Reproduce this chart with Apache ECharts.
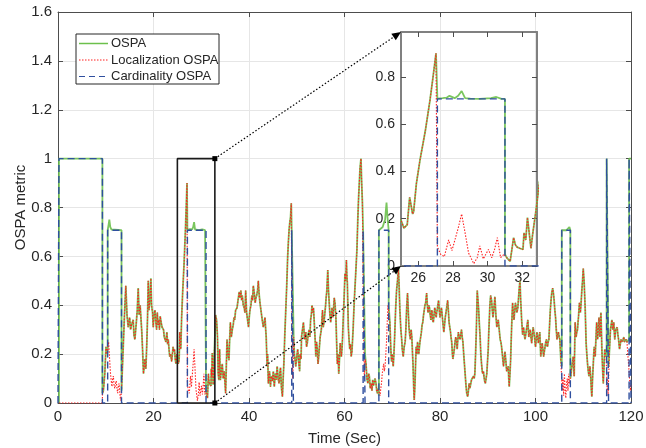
<!DOCTYPE html>
<html>
<head>
<meta charset="utf-8">
<script src="https://cdn.jsdelivr.net/npm/echarts@6/dist/echarts.min.js"></script>
<style>
  html, body { margin: 0; padding: 0; background: #fff; }
  #main { width: 646px; height: 448px; }
</style>
</head>
<body>
<div id="main"></div>
<script>
// tick labels
const xTickLabels = [0, 20, 40, 60, 80, 100, 120];
const yTickLabels = [0, 0.2, 0.4, 0.6, 0.8, 1, 1.2, 1.4, 1.6];
const insetXTicks = [26, 28, 30, 32];
const insetYTicks = [0, 0.2, 0.4, 0.6, 0.8];

// zoomed window [t0, t1, y0, y1] and inset y extent
const zoomBox = [25, 32.85, 0, 1];
const insetYMax = 0.99;

// cardinality error steps: [start, end, level]
const cardSteps = [
  [0.2, 9.3, 1], [10.4, 13.3, 0.707], [27.1, 31.0, 0.707], [48.95, 49.3, 0.707],
  [63.9, 64.3, 0.707], [67.2, 69.25, 0.707], [105.5, 107.3, 0.707],
  [114.9, 115.3, 1], [119.6, 120, 1]
];

// OSPA [time, value]
const ospa = [
  [0.2,0],[0.2,1],[9.3,1],[9.3,0.04],[9.5,0.05],[9.8,0.12],[10.05,0.23],[10.3,0.2],[10.4,0.22],
  [10.4,0.707],[10.6,0.73],[10.75,0.75],[10.95,0.72],[11.2,0.71],[11.5,0.707],[13.3,0.707],
  [13.3,0.05],[13.6,0.2],[13.9,0.35],[14.2,0.48],[14.45,0.36],[14.7,0.31],[15.0,0.35],[15.2,0.30],[15.4,0.32],
  [15.75,0.34],[15.9,0.28],[16.1,0.26],[16.4,0.33],[16.6,0.38],[16.8,0.47],[17.0,0.36],[17.2,0.40],[17.55,0.29],
  [17.75,0.2],[17.9,0.12],[18.05,0.15],[18.2,0.18],[18.4,0.14],[18.6,0.245],[18.75,0.35],[18.9,0.50],[19.05,0.38],
  [19.25,0.42],[19.45,0.51],[19.6,0.40],[19.8,0.37],[19.95,0.31],[20.1,0.36],[20.3,0.38],[20.5,0.33],[20.65,0.30],
  [20.8,0.37],[20.95,0.32],[21.1,0.34],[21.25,0.30],[21.4,0.355],[21.6,0.33],[21.8,0.31],[22.1,0.30],[22.25,0.27],
  [22.4,0.27],[22.6,0.25],[22.8,0.29],[22.95,0.24],[23.1,0.26],[23.25,0.22],[23.4,0.19],[23.6,0.2],[23.8,0.17],
  [23.95,0.2],[24.1,0.23],[24.25,0.21],[24.4,0.22],[24.55,0.18],[24.7,0.16],[24.9,0.2],[25.02,0.19],[25.17,0.16],
  [25.36,0.175],[25.5,0.29],[25.58,0.29],[25.67,0.22],[25.73,0.23],[25.89,0.35],[26.1,0.45],[26.4,0.57],[26.67,0.70],
  [26.85,0.8],[27.02,0.90],[27.1,0.708],[27.4,0.71],[27.63,0.712],[27.8,0.72],[28.1,0.71],[28.3,0.72],[28.5,0.74],
  [28.7,0.71],[29.0,0.708],[29.55,0.707],[30.2,0.71],[30.5,0.715],[30.8,0.707],[31.0,0.707],
  [31.0,0.05],[31.1,0.035],[31.3,0.02],[31.5,0.12],[31.6,0.09],[31.7,0.08],[31.85,0.075],[32.04,0.07],[32.1,0.14],
  [32.2,0.11],[32.3,0.205],[32.4,0.14],[32.5,0.075],[32.6,0.135],[32.8,0.24],[33.0,0.36],[33.2,0.34],[33.4,0.27],
  [33.55,0.12],[33.7,0.094],[33.85,0.22],[34.0,0.094],[34.2,0.13],[34.4,0.16],[34.6,0.1],[34.8,0.13],[34.95,0.09],
  [35.1,0.04],[35.25,0.15],[35.4,0.26],[35.6,0.2],[35.8,0.175],[35.95,0.26],[36.1,0.33],[36.3,0.27],[36.5,0.30],
  [36.7,0.32],[36.85,0.35],[37.0,0.34],[37.2,0.38],[37.5,0.39],[37.7,0.42],[37.95,0.455],[38.1,0.43],[38.3,0.46],
  [38.45,0.42],[38.6,0.44],[38.8,0.40],[39.0,0.39],[39.15,0.37],[39.3,0.46],[39.5,0.37],[39.7,0.34],[39.9,0.31],
  [40.05,0.35],[40.2,0.38],[40.4,0.40],[40.6,0.44],[40.75,0.42],[40.9,0.48],[41.1,0.45],[41.3,0.41],[41.45,0.43],
  [41.6,0.44],[41.8,0.46],[41.95,0.50],[42.1,0.45],[42.3,0.41],[42.5,0.38],[42.7,0.35],[42.85,0.33],[43.0,0.31],
  [43.2,0.33],[43.35,0.35],[43.5,0.3],[43.6,0.27],[43.8,0.15],[43.9,0.2],[44.05,0.08],[44.2,0.12],[44.3,0.13],
  [44.5,0.067],[44.6,0.1],[44.75,0.11],[44.9,0.09],[45.1,0.13],[45.3,0.067],[45.5,0.12],[45.7,0.095],[45.9,0.15],
  [46.1,0.1],[46.3,0.08],[46.45,0.12],[46.6,0.145],[46.8,0.06],[47.0,0.026],[47.15,0.1],[47.3,0.16],[47.5,0.28],
  [47.7,0.38],[47.9,0.48],[48.1,0.60],[48.25,0.66],[48.4,0.71],[48.55,0.74],[48.7,0.76],[48.85,0.817],[48.95,0.707],
  [49.3,0.707],[49.35,0.27],[49.5,0.2],[49.8,0.15],[50.0,0.19],[50.2,0.22],[50.4,0.17],[50.6,0.13],[50.7,0.2],
  [50.9,0.18],[51.0,0.27],[51.2,0.27],[51.4,0.33],[51.65,0.26],[51.9,0.29],[52.05,0.23],[52.2,0.245],[52.4,0.28],
  [52.6,0.30],[52.75,0.27],[52.9,0.34],[53.05,0.36],[53.2,0.40],[53.35,0.37],[53.5,0.39],[53.75,0.30],[53.9,0.24],
  [54.0,0.19],[54.15,0.25],[54.3,0.22],[54.45,0.16],[54.6,0.19],[54.75,0.23],[54.9,0.27],[55.15,0.30],[55.3,0.35],
  [55.4,0.38],[55.55,0.31],[55.7,0.33],[55.85,0.36],[56.0,0.39],[56.15,0.43],[56.3,0.46],[56.5,0.544],[56.65,0.46],
  [56.8,0.41],[56.95,0.36],[57.1,0.33],[57.25,0.36],[57.4,0.39],[57.55,0.35],[57.7,0.38],[57.85,0.43],[58.0,0.41],
  [58.2,0.35],[58.35,0.25],[58.5,0.16],[58.65,0.2],[58.8,0.12],[58.95,0.18],[59.1,0.245],[59.25,0.21],[59.35,0.19],
  [59.5,0.23],[59.6,0.27],[59.75,0.35],[59.9,0.42],[60.1,0.53],[60.25,0.5],[60.4,0.585],[60.5,0.52],[60.6,0.49],
  [60.7,0.4],[60.8,0.31],[60.95,0.26],[61.1,0.22],[61.25,0.24],[61.4,0.19],[61.55,0.21],[61.65,0.245],[61.8,0.3],
  [61.9,0.35],[62.05,0.42],[62.2,0.475],[62.4,0.55],[62.6,0.626],[62.8,0.76],[62.95,0.84],[63.1,0.90],[63.25,0.96],
  [63.45,1.0],[63.6,0.9],[63.75,0.82],[63.9,0.707],[64.3,0.707],
  [64.3,0.2],[64.5,0.16],[64.7,0.1],[64.9,0.08],[65.05,0.12],[65.2,0.11],[65.4,0.06],[65.6,0.08],[65.75,0.05],
  [65.9,0.095],[66.05,0.07],[66.2,0.067],[66.4,0.1],[66.6,0.08],[66.75,0.05],[66.9,0.04],[67.05,0.06],[67.2,0.03],
  [67.2,0.707],[67.6,0.71],[68.0,0.72],[68.3,0.74],[68.5,0.75],[68.8,0.82],[69.0,0.76],[69.25,0.707],
  [69.25,0.40],[69.5,0.33],[69.7,0.22],[69.85,0.17],[70.0,0.2],[70.2,0.15],[70.35,0.2],[70.5,0.27],[70.7,0.38],
  [70.9,0.46],[71.1,0.5],[71.3,0.55],[71.45,0.47],[71.6,0.38],[71.8,0.3],[71.98,0.26],[72.1,0.22],[72.3,0.19],
  [72.5,0.23],[72.7,0.25],[72.85,0.3],[73.0,0.38],[73.2,0.45],[73.35,0.38],[73.5,0.31],[73.65,0.28],[73.8,0.26],
  [73.95,0.3],[74.1,0.27],[74.25,0.2],[74.35,0.16],[74.5,0.06],[74.6,0.012],[74.7,0.05],[74.8,0.10],[74.9,0.17],
  [75.0,0.23],[75.15,0.2],[75.3,0.25],[75.45,0.22],[75.55,0.20],[75.7,0.23],[75.8,0.25],[75.95,0.27],[76.1,0.29],
  [76.25,0.32],[76.4,0.33],[76.55,0.36],[76.7,0.38],[76.85,0.4],[77.0,0.41],[77.2,0.45],[77.35,0.4],[77.5,0.37],
  [77.65,0.4],[77.8,0.39],[77.95,0.36],[78.1,0.34],[78.2,0.37],[78.3,0.38],[78.45,0.34],[78.6,0.33],[78.75,0.36],
  [78.9,0.39],[79.05,0.37],[79.2,0.35],[79.3,0.37],[79.4,0.38],[79.55,0.4],[79.7,0.42],[79.85,0.38],[80.0,0.35],
  [80.15,0.37],[80.3,0.39],[80.45,0.36],[80.6,0.33],[80.7,0.31],[80.8,0.29],[80.95,0.32],[81.1,0.35],[81.25,0.37],
  [81.4,0.39],[81.6,0.42],[81.75,0.38],[81.9,0.33],[82.05,0.31],[82.2,0.29],[82.3,0.27],[82.45,0.25],[82.6,0.2],
  [82.7,0.18],[82.85,0.2],[83.0,0.22],[83.15,0.25],[83.3,0.27],[83.45,0.25],[83.6,0.22],[83.7,0.25],[83.85,0.29],
  [84.0,0.27],[84.2,0.26],[84.35,0.28],[84.5,0.30],[84.65,0.27],[84.8,0.25],[84.9,0.22],[85.0,0.19],[85.15,0.15],
  [85.3,0.11],[85.45,0.07],[85.6,0.04],[85.8,0.026],[85.95,0.05],[86.1,0.08],[86.25,0.06],[86.4,0.054],[86.6,0.095],
  [86.8,0.1],[87.0,0.11],[87.15,0.1],[87.3,0.12],[87.45,0.2],[87.6,0.29],[87.8,0.46],[87.95,0.42],[88.1,0.38],
  [88.25,0.32],[88.4,0.27],[88.55,0.2],[88.7,0.16],[88.85,0.13],[88.95,0.12],[89.1,0.13],[89.2,0.11],[89.35,0.09],
  [89.5,0.08],[89.65,0.1],[89.8,0.12],[89.95,0.17],[90.1,0.22],[90.2,0.28],[90.3,0.33],[90.45,0.4],[90.6,0.44],
  [90.8,0.42],[90.95,0.38],[91.1,0.35],[91.2,0.35],[91.35,0.4],[91.5,0.435],[91.7,0.36],[91.9,0.31],[92.05,0.33],
  [92.2,0.34],[92.4,0.3],[92.6,0.26],[92.75,0.25],[92.9,0.23],[93.1,0.19],[93.3,0.15],[93.45,0.18],[93.6,0.21],
  [93.8,0.17],[93.96,0.13],[94.1,0.14],[94.3,0.15],[94.4,0.1],[94.5,0.067],[94.65,0.12],[94.8,0.18],[94.9,0.25],
  [95.0,0.31],[95.1,0.36],[95.2,0.41],[95.35,0.37],[95.5,0.34],[95.65,0.38],[95.8,0.41],[95.95,0.39],[96.1,0.37],
  [96.2,0.38],[96.3,0.39],[96.45,0.43],[96.6,0.47],[96.75,0.50],[96.9,0.42],[97.1,0.34],[97.3,0.28],[97.4,0.3],
  [97.5,0.31],[97.65,0.28],[97.8,0.26],[97.95,0.28],[98.1,0.30],[98.25,0.32],[98.4,0.34],[98.5,0.3],[98.6,0.27],
  [98.75,0.29],[98.9,0.30],[99.05,0.27],[99.2,0.245],[99.35,0.28],[99.5,0.31],[99.65,0.29],[99.8,0.27],[99.9,0.25],
  [100.0,0.23],[100.15,0.26],[100.3,0.29],[100.45,0.27],[100.6,0.245],[100.75,0.27],[100.9,0.29],[101.0,0.24],
  [101.1,0.19],[101.25,0.22],[101.4,0.245],[101.55,0.22],[101.7,0.19],[101.85,0.21],[102.0,0.23],[102.15,0.25],
  [102.3,0.26],[102.4,0.24],[102.5,0.23],[102.65,0.25],[102.8,0.26],[102.95,0.32],[103.1,0.38],[103.25,0.42],
  [103.4,0.45],[103.6,0.47],[103.75,0.45],[103.9,0.42],[104.05,0.38],[104.2,0.35],[104.35,0.3],[104.5,0.26],
  [104.65,0.28],[104.8,0.29],[104.95,0.27],[105.1,0.26],[105.2,0.22],[105.3,0.18],[105.5,0.15],
  [105.5,0.707],[106.5,0.707],[106.9,0.715],[107.1,0.72],[107.3,0.707],
  [107.3,0.1],[107.4,0.11],[107.55,0.14],[107.7,0.16],[107.9,0.19],[108.0,0.15],[108.1,0.11],[108.2,0.22],[108.3,0.33],
  [108.4,0.3],[108.5,0.27],[108.65,0.29],[108.8,0.30],[108.9,0.33],[109.0,0.35],[109.1,0.38],[109.2,0.41],[109.3,0.39],
  [109.4,0.37],[109.55,0.41],[109.7,0.46],[109.85,0.5],[110.0,0.55],[110.1,0.52],[110.2,0.49],[110.3,0.44],[110.4,0.39],
  [110.5,0.32],[110.6,0.245],[110.75,0.2],[110.9,0.16],[111.05,0.13],[111.2,0.11],[111.3,0.13],[111.4,0.15],[111.5,0.12],
  [111.6,0.095],[111.7,0.05],[111.8,0.026],[111.95,0.1],[112.1,0.16],[112.2,0.2],[112.3,0.23],[112.4,0.21],[112.5,0.19],
  [112.65,0.26],[112.8,0.33],[112.9,0.3],[113.0,0.26],[113.15,0.3],[113.3,0.35],[113.4,0.31],[113.5,0.27],[113.6,0.32],
  [113.7,0.37],[113.8,0.3],[113.9,0.22],[114.05,0.14],[114.2,0.08],[114.35,0.15],[114.5,0.22],[114.65,0.2],[114.8,0.19],
  [114.9,0.2],[114.9,1.0],[115.3,1.0],
  [115.3,0.15],[115.5,0.22],[115.6,0.26],[115.7,0.30],[115.85,0.32],[116.0,0.34],[116.1,0.32],[116.2,0.30],[116.3,0.31],
  [116.4,0.33],[116.5,0.29],[116.6,0.26],[116.7,0.28],[116.8,0.30],[116.95,0.3],[117.1,0.31],[117.25,0.28],[117.4,0.26],
  [117.5,0.24],[117.6,0.22],[117.75,0.24],[117.9,0.26],[118.05,0.25],[118.2,0.25],[118.35,0.26],[118.5,0.27],[118.6,0.25],
  [118.7,0.245],[118.85,0.25],[119.0,0.26],[119.15,0.25],[119.3,0.245],[119.45,0.25],[119.6,0.26],
  [119.6,1.0],[120,1.0]
];

// localization OSPA inside the cardinality-error intervals (elsewhere it equals OSPA)
const locInCard = [
  [0.2,0],[9.3,0],[9.3,0.04],
  [10.4,0.2],[10.6,0.25],[10.75,0.245],[10.9,0.15],[11.0,0.12],[11.15,0.09],[11.3,0.067],[11.45,0.1],[11.6,0.11],
  [11.75,0.07],[11.9,0.06],[12.05,0.08],[12.2,0.09],[12.35,0.06],[12.5,0.04],[12.65,0.07],[12.8,0.08],[12.95,0.04],
  [13.1,0.01],[13.3,0.05],
  [27.1,0.08],[27.29,0.05],[27.5,0.04],[27.75,0.11],[27.94,0.065],[28.13,0.115],[28.3,0.16],[28.5,0.22],[28.7,0.14],
  [28.9,0.055],[29.2,0.01],[29.4,0.035],[29.55,0.085],[29.75,0.03],[30.05,0.07],[30.24,0.035],[30.4,0.07],[30.56,0.12],
  [30.75,0.035],[30.95,0.05],
  [49.0,0.3],[49.15,0.1],[49.3,0.2],
  [64.0,0.3],[64.15,0.1],[64.3,0.18],
  [67.3,0.04],[67.45,0.03],[67.6,0.06],[67.75,0.08],[67.9,0.12],[68.05,0.14],[68.2,0.16],[68.35,0.13],[68.5,0.15],
  [68.65,0.2],[68.8,0.25],[68.95,0.33],[69.1,0.40],[69.25,0.40],
  [105.6,0.05],[105.75,0.1],[105.9,0.03],[106.05,0.12],[106.2,0.06],[106.35,0.02],[106.5,0.08],[106.65,0.1],
  [106.8,0.05],[106.95,0.12],[107.1,0.08],[107.25,0.1],
  [115.0,0.05],[115.1,0.1],[115.2,0.03],
  [119.7,0.1],[119.85,0.05],[120,0.08]
];

const inCard = t => cardSteps.some(s => t >= s[0] && t <= s[1]);
const localization = ospa.filter(p => !inCard(p[0])).concat(locInCard).sort((a, b) => a[0] - b[0]);

const cardinality = [[0, 0]];
cardSteps.forEach(s => {
  cardinality.push([s[0], 0], [s[0], s[2]], [s[1], s[2]], [s[1], 0]);
});

const FONT = 'Liberation Sans, Arial, sans-serif';
const TXT = '#262626';
const GREEN = '#6cc04c';
const RED = '#ff1f1f';
const BLUE = '#2f4f9f';

function makeSeries(xi, yi) {
  return [
    { name: 'OSPA', type: 'line', xAxisIndex: xi, yAxisIndex: yi, data: ospa, symbol: 'none',
      lineStyle: { color: GREEN, width: 1.8, opacity: 0.9 }, z: 3 },
    { name: 'Localization OSPA', type: 'line', xAxisIndex: xi, yAxisIndex: yi, data: localization, symbol: 'none',
      lineStyle: { color: RED, width: 1.1, type: [1.5, 1.5] }, z: 4 },
    { name: 'Cardinality OSPA', type: 'line', xAxisIndex: xi, yAxisIndex: yi, data: cardinality, symbol: 'none',
      lineStyle: { color: BLUE, width: 1.4, type: [7, 4] }, z: 5 }
  ];
}

const chart = echarts.init(document.getElementById('main'));
const mainAxisLine = { show: true, onZero: false, lineStyle: { color: '#4d4d4d', width: 1 } };
const insetAxisLine = { show: true, onZero: false, lineStyle: { color: '#808080', width: 2 } };
const tickIn = { show: true, inside: true, length: 5, lineStyle: { color: '#4d4d4d' } };
const labelStyle = { color: TXT, fontSize: 15, fontFamily: FONT };
const insetLabelStyle = { color: TXT, fontSize: 14, fontFamily: FONT };

const option = {
  animation: false,
  backgroundColor: '#fff',
  grid: [
    { left: 58, top: 12, right: 15, bottom: 45, outerBoundsMode: 'none', containLabel: false },
    { left: 401, top: 32, width: 136, height: 234, outerBoundsMode: 'none', containLabel: false }
  ],
  xAxis: [
    { type: 'value', gridIndex: 0, min: xTickLabels[0], max: xTickLabels[xTickLabels.length - 1],
      interval: xTickLabels[1] - xTickLabels[0], axisLine: mainAxisLine, axisTick: tickIn,
      axisLabel: Object.assign({ margin: 6 }, labelStyle),
      splitLine: { show: true, lineStyle: { color: '#e6e6e6' } },
      name: 'Time (Sec)', nameLocation: 'middle', nameGap: 28,
      nameTextStyle: { color: TXT, fontSize: 15, fontFamily: FONT } },
    { type: 'value', gridIndex: 0, position: 'top', min: xTickLabels[0], max: xTickLabels[xTickLabels.length - 1],
      interval: xTickLabels[1] - xTickLabels[0], axisLine: mainAxisLine, axisTick: tickIn,
      axisLabel: { show: false }, splitLine: { show: false } },
    { type: 'value', gridIndex: 1, min: zoomBox[0], max: zoomBox[1], axisLine: insetAxisLine,
      axisTick: Object.assign({ customValues: insetXTicks }, tickIn),
      axisLabel: Object.assign({ margin: 5, customValues: insetXTicks }, insetLabelStyle), splitLine: { show: false } },
    { type: 'value', gridIndex: 1, position: 'top', min: zoomBox[0], max: zoomBox[1], axisLine: insetAxisLine,
      axisTick: Object.assign({ customValues: insetXTicks }, tickIn),
      axisLabel: { show: false }, splitLine: { show: false } }
  ],
  yAxis: [
    { type: 'value', gridIndex: 0, min: yTickLabels[0], max: yTickLabels[yTickLabels.length - 1],
      interval: 0.2, axisLine: mainAxisLine, axisTick: tickIn,
      axisLabel: Object.assign({ margin: 6 }, labelStyle),
      splitLine: { show: true, lineStyle: { color: '#e6e6e6' } },
      name: 'OSPA metric', nameLocation: 'middle', nameGap: 30, nameMoveOverlap: false,
      nameTextStyle: { color: TXT, fontSize: 15, fontFamily: FONT } },
    { type: 'value', gridIndex: 0, position: 'right', min: yTickLabels[0], max: yTickLabels[yTickLabels.length - 1],
      interval: 0.2, axisLine: mainAxisLine, axisTick: tickIn,
      axisLabel: { show: false }, splitLine: { show: false } },
    { type: 'value', gridIndex: 1, min: 0, max: insetYMax, axisLine: insetAxisLine,
      axisTick: Object.assign({ customValues: insetYTicks }, tickIn),
      axisLabel: Object.assign({ margin: 6, customValues: insetYTicks }, insetLabelStyle), splitLine: { show: false } },
    { type: 'value', gridIndex: 1, position: 'right', min: 0, max: insetYMax, axisLine: insetAxisLine,
      axisTick: Object.assign({ customValues: insetYTicks }, tickIn),
      axisLabel: { show: false }, splitLine: { show: false } }
  ],
  series: makeSeries(0, 0).concat(makeSeries(2, 2)).concat([
    { name: 'zoom box', type: 'line', xAxisIndex: 0, yAxisIndex: 0, symbol: 'none', z: 6,
      data: [[zoomBox[0], zoomBox[2]], [zoomBox[0], zoomBox[3]], [zoomBox[1], zoomBox[3]],
             [zoomBox[1], zoomBox[2]], [zoomBox[0], zoomBox[2]]],
      lineStyle: { color: '#1a1a1a', width: 1.6 } }
  ])
};
chart.setOption(option);

// connector arrows from the zoom box to the inset, plus legend
const pTop = chart.convertToPixel({ xAxisIndex: 0, yAxisIndex: 0 }, [zoomBox[1], zoomBox[3]]);
const pBot = chart.convertToPixel({ xAxisIndex: 0, yAxisIndex: 0 }, [zoomBox[1], zoomBox[2]]);
const qTop = chart.convertToPixel({ xAxisIndex: 2, yAxisIndex: 2 }, [zoomBox[0], insetYMax]);
const qBot = chart.convertToPixel({ xAxisIndex: 2, yAxisIndex: 2 }, [zoomBox[0], 0]);

function arrow(p, q) {
  const dx = q[0] - p[0], dy = q[1] - p[1];
  const len = Math.sqrt(dx * dx + dy * dy);
  const ux = dx / len, uy = dy / len, nx = -uy, ny = ux;
  const b = [q[0] - 9 * ux, q[1] - 9 * uy];
  return [
    { type: 'line', shape: { x1: p[0], y1: p[1], x2: b[0], y2: b[1] },
      style: { stroke: '#000', lineWidth: 1.2, lineDash: [1.5, 2] }, z: 10 },
    { type: 'polygon', shape: { points: [q, [b[0] + 4 * nx, b[1] + 4 * ny], [b[0] - 4 * nx, b[1] - 4 * ny]] },
      style: { fill: '#000' }, z: 10 },
    { type: 'rect', shape: { x: p[0] - 2.5, y: p[1] - 2.5, width: 5, height: 5 }, style: { fill: '#000' }, z: 10 }
  ];
}

const legendItems = [
  { label: 'OSPA', color: GREEN, dash: null, width: 1.5 },
  { label: 'Localization OSPA', color: RED, dash: [1.5, 1.5], width: 1 },
  { label: 'Cardinality OSPA', color: BLUE, dash: [6, 4], width: 1.2 }
];
const legendGraphics = [
  { type: 'rect', shape: { x: 76, y: 34, width: 143, height: 50 },
    style: { fill: '#fff', stroke: '#262626', lineWidth: 1 }, z: 20 }
];
legendItems.forEach((it, i) => {
  const y = 43.5 + i * 16.5;
  legendGraphics.push(
    { type: 'line', shape: { x1: 79, y1: y, x2: 108, y2: y },
      style: { stroke: it.color, lineWidth: it.width, lineDash: it.dash }, z: 21 },
    { type: 'text', x: 111, y: y, style: { text: it.label, fill: TXT, fontSize: 13, fontFamily: FONT,
      verticalAlign: 'middle' }, z: 21 }
  );
});

chart.setOption({ graphic: arrow(pTop, qTop).concat(arrow(pBot, qBot)).concat(legendGraphics) });
</script>
</body>
</html>
